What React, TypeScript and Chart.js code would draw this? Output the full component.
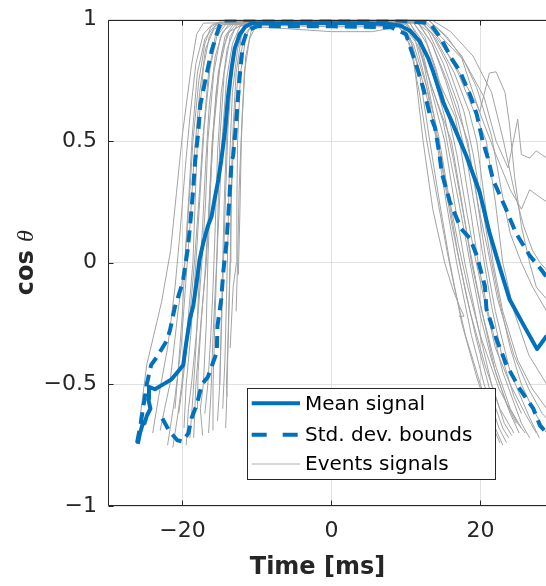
import React, { useEffect, useRef } from "react";
import { Chart, registerables } from "chart.js";

Chart.register(...registerables);

type P = [number, number];

const xTicks = [-20, 0, 20];
const yTicks = [-1, -0.5, 0, 0.5, 1];
const xMin = -30;
const xMax = 28.8;
const yMin = -1;
const yMax = 1;
const legendLabels = ["Mean signal", "Std. dev. bounds", "Events signals"];
const xTitle = "Time [ms]";
const yTitleMain = "cos ";
const yTitleSymbol = "θ";

const meanSignal: P[] = [
  [-26.0, -0.745], [-25.7, -0.7], [-25.5, -0.68], [-25.3, -0.655], [-25.1, -0.66], [-24.8, -0.63],
  [-24.3, -0.6], [-24.6, -0.56], [-24.5, -0.51], [-23.7, -0.52], [-22.6, -0.5], [-21.5, -0.48],
  [-20.4, -0.44], [-19.9, -0.42], [-19.5, -0.33], [-19.0, -0.23], [-18.55, -0.177], [-18.1, -0.08],
  [-17.7, 0.014], [-17.2, 0.083], [-16.6, 0.15], [-16.1, 0.19], [-15.7, 0.26], [-15.2, 0.34],
  [-14.8, 0.42], [-14.3, 0.54], [-13.9, 0.68], [-13.4, 0.8], [-13.0, 0.88], [-12.3, 0.94],
  [-11.6, 0.97], [-10.7, 0.985], [-8, 0.985], [-4, 0.985], [0, 0.985], [4, 0.985], [8, 0.98],
  [9.2, 0.975], [10.5, 0.955], [11.85, 0.91], [13.0, 0.84], [13.6, 0.79], [15.0, 0.66],
  [16.3, 0.57], [18.1, 0.44], [19.9, 0.29], [21.2, 0.125], [22.5, -0.01], [23.9, -0.15],
  [25.5, -0.24], [27.6, -0.355], [28.9, -0.3],
];

const upperBound: P[] = [
  [-26.1, -0.74], [-25.6, -0.66], [-25.2, -0.58], [-24.8, -0.5], [-24.2, -0.42], [-23.5, -0.39],
  [-22.1, -0.32], [-21.7, -0.28], [-21.0, -0.18], [-19.96, -0.08], [-19.3, 0.055], [-18.9, 0.18],
  [-18.6, 0.29], [-18.3, 0.42], [-17.9, 0.53], [-17.6, 0.65], [-16.8, 0.77], [-16.1, 0.87],
  [-15.4, 0.94], [-14.8, 0.995], [-12, 0.998], [0, 0.998], [8, 0.998], [13.2, 0.985],
  [14.75, 0.92], [16.1, 0.84], [17.2, 0.79], [18.6, 0.69], [19.5, 0.61], [20.3, 0.5],
  [21.0, 0.43], [21.7, 0.34], [23.3, 0.23], [24.8, 0.12], [26.6, 0.03], [28.2, -0.03],
  [28.9, -0.06],
];

const lowerBound: P[] = [
  [-22.7, -0.64], [-21.8, -0.69], [-20.7, -0.73], [-20.0, -0.735], [-19.2, -0.7], [-18.8, -0.64],
  [-18.1, -0.585], [-17.4, -0.5], [-16.6, -0.47], [-15.9, -0.41], [-15.4, -0.37], [-15.3, -0.26],
  [-14.8, -0.15], [-14.5, -0.03], [-14.1, 0.08], [-13.8, 0.22], [-13.4, 0.42], [-13.2, 0.44],
  [-12.8, 0.57], [-12.6, 0.66], [-12.3, 0.77], [-11.9, 0.9], [-11.3, 0.955], [-10.0, 0.972],
  [0, 0.972], [8, 0.968], [10.0, 0.94], [11.4, 0.81], [12.3, 0.72], [13.2, 0.61], [13.9, 0.555],
  [14.5, 0.445], [14.8, 0.37], [15.9, 0.25], [17.4, 0.14], [18.6, 0.1], [19.5, 0.03],
  [20.6, -0.095], [20.8, -0.19], [22.1, -0.31], [23.5, -0.42], [25.3, -0.52], [27.1, -0.6],
  [28.0, -0.67], [28.9, -0.7],
];

const event01: P[] = [
  [-25.8, -0.66], [-24.8, -0.42], [-22.8, -0.16], [-21.6, 0.05], [-20.8, 0.29], [-20.0, 0.53],
  [-18.8, 0.81], [-18.1, 0.94], [-17.2, 0.985], [-10, 0.99], [0, 0.99], [8, 0.985], [9.5, 0.97],
  [11.0, 0.85], [12.3, 0.5], [13.6, 0.22], [15.2, 0.0], [16.3, -0.11], [17.2, -0.18], [17.8, -0.22],
  [17.1, -0.22],
];
const event02: P[] = [
  [-23.0, -0.69], [-22.4, -0.6], [-21.7, -0.5], [-20.6, -0.2], [-19.7, 0.0], [-19.0, 0.3],
  [-18.6, 0.5], [-17.8, 0.75], [-17.0, 0.9], [-16.2, 0.97], [-15.0, 0.99], [0, 0.99], [9, 0.99],
  [10.5, 0.93], [11.8, 0.78], [13.2, 0.5], [14.5, 0.25], [15.9, 0.0], [17.5, -0.25], [19.5, -0.47],
  [21.5, -0.66], [22.6, -0.74],
];
const event03: P[] = [
  [-21.3, -0.76], [-20.6, -0.62], [-20.1, -0.5], [-19.3, -0.25], [-18.6, 0.0], [-18.0, 0.5],
  [-17.2, 0.8], [-16.4, 0.93], [-15.5, 0.98], [-14, 0.99], [0, 0.985], [10, 0.98], [11.2, 0.92],
  [12.6, 0.75], [14.1, 0.5], [15.5, 0.23], [16.8, 0.0], [18.8, -0.3], [20.5, -0.5], [22.5, -0.68],
  [23.5, -0.74],
];
const event04: P[] = [
  [-19.5, -0.75], [-19.2, -0.6], [-18.8, -0.5], [-18.0, -0.25], [-17.4, 0.0], [-16.9, 0.25],
  [-16.6, 0.5], [-15.8, 0.78], [-14.9, 0.93], [-13.8, 0.98], [-12, 0.99], [0, 0.99], [10.5, 0.99],
  [12, 0.9], [13.5, 0.7], [15.2, 0.5], [16.5, 0.25], [17.9, 0.0], [19.8, -0.28], [21.5, -0.5],
  [23.2, -0.66], [24.2, -0.71],
];
const event05: P[] = [
  [-20.5, -0.62], [-20.0, -0.5], [-19.1, -0.25], [-18.4, 0.0], [-17.7, 0.3], [-17.3, 0.5],
  [-16.5, 0.78], [-15.6, 0.93], [-14.5, 0.98], [-13, 0.99], [-2, 0.98], [9.5, 0.98], [11.5, 0.9],
  [13.5, 0.72], [16.1, 0.5], [17.5, 0.25], [18.8, 0.0], [20.2, -0.2], [22.0, -0.45], [24.0, -0.62],
  [25.2, -0.7],
];
const event06: P[] = [
  [-17.3, -0.71], [-17.6, -0.6], [-17.2, -0.5], [-16.8, -0.25], [-16.6, 0.0], [-16.3, 0.25],
  [-16.0, 0.5], [-15.2, 0.78], [-14.3, 0.93], [-13.2, 0.98], [-11.5, 0.99], [0, 0.995], [11, 0.99],
  [12.8, 0.9], [14.5, 0.74], [16.6, 0.6], [17.2, 0.5], [18.5, 0.25], [19.7, 0.0], [21.0, -0.2],
  [23.0, -0.45], [25.5, -0.66], [26.6, -0.72],
];
const event07: P[] = [
  [-15.9, -0.69], [-15.9, -0.5], [-15.6, -0.2], [-15.4, 0.0], [-15.2, 0.25], [-15.0, 0.5],
  [-14.4, 0.78], [-13.6, 0.93], [-12.6, 0.98], [-11, 0.99], [0, 0.99], [11.5, 0.995], [13.5, 0.9],
  [15.5, 0.75], [18.3, 0.5], [19.6, 0.25], [20.8, 0.0], [22.0, -0.2], [24.0, -0.45], [26.5, -0.63],
  [27.9, -0.72],
];
const event08: P[] = [
  [-15.3, -0.65], [-15.0, -0.5], [-14.8, -0.25], [-14.6, 0.0], [-14.4, 0.25], [-14.1, 0.5],
  [-13.5, 0.8], [-12.6, 0.94], [-11.5, 0.98], [-10, 0.99], [0, 0.99], [12, 0.998], [14.0, 0.92],
  [16.5, 0.78], [18.5, 0.62], [19.5, 0.5], [20.6, 0.25], [21.7, 0.0], [23.0, -0.2], [25.0, -0.4],
  [27.0, -0.52], [28.9, -0.6],
];
const event09: P[] = [
  [-14.0, -0.55], [-14.1, -0.5], [-13.8, -0.25], [-13.6, 0.0], [-13.5, 0.25], [-13.3, 0.5],
  [-12.8, 0.78], [-12.1, 0.93], [-11.2, 0.98], [-9, 0.99], [0, 0.99], [12.5, 0.998], [15.0, 0.92],
  [17.5, 0.84], [19.0, 0.7], [19.9, 0.62], [21.2, 0.78], [22.1, 0.785], [23.3, 0.7], [23.9, 0.57],
  [24.6, 0.35], [25.5, 0.15], [26.6, 0.0], [27.5, -0.1], [28.9, -0.15],
];
const event10: P[] = [
  [-13.6, -0.35], [-13.2, -0.1], [-12.75, 0.0], [-12.7, 0.25], [-12.6, 0.5], [-12.2, 0.78],
  [-11.5, 0.93], [-10.7, 0.98], [-9, 0.99], [0, 0.998], [13, 0.998], [15.5, 0.93], [18.0, 0.82],
  [20.5, 0.68], [22.1, 0.5], [23.7, 0.39], [25.0, 0.59], [25.5, 0.445], [26.6, 0.43], [27.5, 0.46],
  [28.9, 0.43],
];
const event11: P[] = [
  [-12.8, -0.2], [-12.6, 0.0], [-12.4, 0.3], [-12.0, 0.6], [-11.5, 0.85], [-10.8, 0.95],
  [-10, 0.98], [0, 0.98], [12.5, 0.99], [14.5, 0.92], [17, 0.78], [20.8, 0.5], [22.0, 0.25],
  [23.0, 0.0], [24.5, -0.2], [26.5, -0.38], [28.9, -0.5],
];
const event12: P[] = [
  [-18.5, -0.72], [-18.2, -0.5], [-17.4, -0.2], [-16.8, 0.0], [-16.3, 0.3], [-15.8, 0.55],
  [-15.0, 0.8], [-14.0, 0.94], [-12.8, 0.98], [-11, 0.985], [0, 0.985], [9.0, 0.975], [10.5, 0.9],
  [11.8, 0.7], [12.8, 0.5], [14.0, 0.3], [15.5, 0.05], [16.5, -0.1], [18.0, -0.3], [20.0, -0.5],
  [22.0, -0.68], [23.0, -0.75],
];
const event13: P[] = [
  [-24.0, -0.7], [-23.2, -0.55], [-22.0, -0.35], [-21.0, -0.1], [-20.4, 0.1], [-19.6, 0.4],
  [-19.0, 0.6], [-18.2, 0.82], [-17.2, 0.94], [-16.0, 0.98], [-14, 0.99], [0, 0.98], [10, 0.985],
  [11.5, 0.93], [12.5, 0.8], [13.8, 0.6], [14.8, 0.4], [16.2, 0.15], [17.2, 0.0], [18.6, -0.2],
  [20.6, -0.42], [22.6, -0.6], [24.5, -0.7],
];
const event14: P[] = [
  [-22.0, -0.75], [-21.0, -0.55], [-20.2, -0.35], [-19.6, -0.1], [-19.0, 0.15], [-18.4, 0.45],
  [-17.7, 0.7], [-16.9, 0.88], [-15.8, 0.96], [-14.5, 0.98], [0, 0.97], [9.5, 0.97], [11, 0.9],
  [12.8, 0.72], [14.4, 0.52], [15.6, 0.3], [17.0, 0.08], [18.3, -0.1], [20.0, -0.3], [22.5, -0.52],
  [25.0, -0.66], [26.0, -0.7],
];
const event15: P[] = [
  [-17.0, -0.62], [-16.6, -0.5], [-16.2, -0.3], [-15.9, -0.1], [-15.6, 0.15], [-15.3, 0.45],
  [-14.8, 0.7], [-14.0, 0.88], [-13.0, 0.96], [-11.8, 0.985], [0, 0.985], [11, 0.985], [12.5, 0.93],
  [14.0, 0.8], [15.6, 0.62], [16.8, 0.45], [18.2, 0.2], [19.3, 0.02], [20.5, -0.15], [22.0, -0.35],
  [24.0, -0.5], [26.0, -0.62], [27.5, -0.7],
];
const event16: P[] = [
  [-14.6, -0.6], [-14.3, -0.4], [-14.1, -0.15], [-13.9, 0.1], [-13.7, 0.4], [-13.3, 0.7],
  [-12.6, 0.88], [-11.8, 0.96], [-10.5, 0.99], [0, 0.998], [11, 0.998], [13.0, 0.95], [15.0, 0.82],
  [17.0, 0.65], [18.5, 0.45], [19.8, 0.22], [21.0, 0.05], [22.3, -0.15], [24.5, -0.38], [26.5, -0.52],
  [28.3, -0.62], [28.9, -0.64],
];
const event17: P[] = [
  [-19.8, -0.68], [-19.5, -0.5], [-18.9, -0.3], [-18.2, 0.0], [-17.6, 0.3], [-17.1, 0.55],
  [-16.3, 0.8], [-15.4, 0.93], [-14.2, 0.98], [-12.5, 0.99], [0, 0.99], [10, 0.99], [11.5, 0.92],
  [13.2, 0.75], [15.0, 0.58], [16.0, 0.42], [17.4, 0.2], [18.6, 0.0], [20.0, -0.22], [21.5, -0.4],
  [23.5, -0.58], [24.8, -0.66],
];
const event18: P[] = [
  [-16.5, -0.7], [-16.2, -0.55], [-15.9, -0.3], [-15.5, -0.05], [-15.1, 0.2], [-14.7, 0.5],
  [-14.1, 0.75], [-13.3, 0.9], [-12.3, 0.97], [-11, 0.99], [0, 0.99], [12, 0.99], [13.5, 0.94],
  [15.5, 0.82], [17.8, 0.62], [19.0, 0.45], [20.3, 0.22], [21.2, 0.05], [22.5, -0.15], [24.0, -0.35],
  [25.5, -0.5], [27.0, -0.6], [28.9, -0.7],
];
const event19: P[] = [
  [-18.0, -0.6], [-17.9, -0.45], [-17.5, -0.25], [-17.0, -0.05], [-16.5, 0.2], [-16.1, 0.45],
  [-15.5, 0.7], [-14.7, 0.87], [-13.7, 0.95], [-12.2, 0.975], [0, 0.95], [5.5, 0.95], [9, 0.97],
  [10.8, 0.9], [12.2, 0.75], [13.5, 0.6], [14.6, 0.45], [15.8, 0.25], [16.9, 0.05], [18.0, -0.12],
  [19.5, -0.32], [21.5, -0.55], [23.0, -0.68], [23.8, -0.72],
];
const event20: P[] = [
  [-15.0, -0.5], [-14.8, -0.3], [-14.6, -0.1], [-14.3, 0.2], [-13.9, 0.55], [-13.3, 0.8],
  [-12.5, 0.93], [-11.5, 0.98], [-10, 0.99], [0, 0.99], [13, 0.998], [15.0, 0.94], [17.5, 0.85],
  [19.5, 0.72], [21.5, 0.52], [22.8, 0.3], [24.0, 0.12], [25.5, 0.0], [27.0, -0.1], [28.9, -0.2],
];
const event21: P[] = [
  [-12.5, -0.05], [-12.3, 0.2], [-12.1, 0.5], [-11.7, 0.78], [-11.0, 0.92], [-10.2, 0.97],
  [-9, 0.99], [0, 0.99], [13.5, 0.998], [16.0, 0.95], [19.0, 0.85], [21.5, 0.7], [23.1, 0.5],
  [24.5, 0.3], [25.8, 0.15], [27.0, 0.05], [28.0, 0.0], [28.9, -0.03],
];
const event22: P[] = [
  [-21.0, -0.6], [-20.6, -0.45], [-20.0, -0.2], [-19.6, 0.05], [-19.1, 0.3], [-18.7, 0.52],
  [-18.0, 0.78], [-17.0, 0.92], [-15.8, 0.97], [-14.5, 0.985], [0, 0.985], [12, 0.99], [14.0, 0.93],
  [16.5, 0.82], [19.5, 0.65], [22.0, 0.45], [24.0, 0.3], [25.5, 0.22], [26.6, 0.3], [27.5, 0.28],
  [28.9, 0.25],
];
const event23: P[] = [
  [-14.2, -0.68], [-14.0, -0.5], [-13.8, -0.2], [-13.6, 0.0], [-13.4, 0.3], [-13.0, 0.6],
  [-12.4, 0.83], [-11.6, 0.94], [-10.6, 0.98], [-9, 0.99], [0, 0.985], [11.5, 0.99], [13.5, 0.9],
  [15.3, 0.75], [17.0, 0.58], [18.2, 0.42], [19.5, 0.18], [20.4, 0.02], [21.5, -0.18], [23.0, -0.4],
  [24.5, -0.55], [25.5, -0.62],
];
const event24: P[] = [
  [-19.0, -0.72], [-18.6, -0.55], [-18.2, -0.35], [-17.8, -0.1], [-17.3, 0.15], [-16.9, 0.4],
  [-16.4, 0.65], [-15.6, 0.85], [-14.6, 0.95], [-13.2, 0.985], [0, 0.99], [10.5, 0.985], [12.0, 0.92],
  [13.6, 0.78], [15.2, 0.6], [16.4, 0.42], [17.6, 0.22], [18.8, 0.02], [20.2, -0.2], [22.0, -0.42],
  [24.0, -0.6], [25.5, -0.68],
];

const eventSignals: P[][] = [
  event01, event02, event03, event04, event05, event06, event07, event08, event09, event10,
  event11, event12, event13, event14, event15, event16, event17, event18, event19, event20,
  event21, event22, event23, event24,
];

const BLUE = "#0072BD";
const GREY = "#a3a3a3";
const AXIS = "#262626";
const GRID = "#e0e0e0";
const FONT = "'DejaVu Sans', sans-serif";

const fmt = (v: number) => String(v).replace("-", "\u2212");
const toXY = (pts: P[]) => pts.map(([x, y]) => ({ x, y }));

const decorPlugin = {
  id: "decor",
  afterDatasetsDraw(chart: any) {
    const { ctx, chartArea: ca, scales } = chart;
    const xs = scales.x;
    const ys = scales.y;
    ctx.save();
    ctx.strokeStyle = AXIS;
    ctx.lineWidth = 1;
    ctx.setLineDash([]);
    const L = Math.round(ca.left) + 0.5;
    const T = Math.round(ca.top) + 0.5;
    const B = Math.round(ca.bottom) - 0.5;
    ctx.beginPath();
    ctx.moveTo(L, T);
    ctx.lineTo(ca.right, T);
    ctx.moveTo(L, T);
    ctx.lineTo(L, B);
    ctx.lineTo(ca.right, B);
    ctx.stroke();
    const tl = 5;
    ctx.beginPath();
    for (const v of xTicks) {
      const px = Math.round(xs.getPixelForValue(v)) + 0.5;
      ctx.moveTo(px, B);
      ctx.lineTo(px, B - tl);
      ctx.moveTo(px, T);
      ctx.lineTo(px, T + tl);
    }
    for (const v of yTicks) {
      const py = Math.round(ys.getPixelForValue(v)) + 0.5;
      ctx.moveTo(L, py);
      ctx.lineTo(L + tl, py);
    }
    ctx.stroke();

    // legend
    const bx = ca.left + 139.3;
    const by = ca.top + 368.8;
    const bw = 247.7;
    const bh = 91;
    ctx.fillStyle = "#ffffff";
    ctx.fillRect(bx, by, bw, bh);
    ctx.strokeStyle = AXIS;
    ctx.lineWidth = 1;
    ctx.strokeRect(Math.round(bx) + 0.5, Math.round(by) + 0.5, Math.round(bw), Math.round(bh));
    const rows = [15, 46.5, 75.7];
    const styles = [
      { color: BLUE, width: 4, dash: [] as number[] },
      { color: BLUE, width: 4, dash: [15, 16] },
      { color: "#b0b0b0", width: 1, dash: [] as number[] },
    ];
    ctx.font = `20px ${FONT}`;
    ctx.textBaseline = "middle";
    ctx.textAlign = "left";
    legendLabels.forEach((lab, i) => {
      const y = by + rows[i];
      const s = styles[i];
      ctx.beginPath();
      ctx.strokeStyle = s.color;
      ctx.lineWidth = s.width;
      ctx.setLineDash(s.dash);
      ctx.moveTo(bx + 4.4, y);
      ctx.lineTo(bx + 52.7, y);
      ctx.stroke();
      ctx.setLineDash([]);
      ctx.fillStyle = "#000000";
      ctx.fillText(lab, bx + 57.7, y + 1);
    });

    // x title
    ctx.fillStyle = AXIS;
    ctx.font = `bold 24px ${FONT}`;
    ctx.textAlign = "center";
    ctx.textBaseline = "alphabetic";
    ctx.fillText(xTitle, ca.left + 209.5, ca.bottom + 68);

    // y title: bold "cos " + italic theta
    ctx.save();
    ctx.translate(ca.left - 75, (ca.top + ca.bottom) / 2);
    ctx.rotate(-Math.PI / 2);
    ctx.font = `bold 24px ${FONT}`;
    const w1 = ctx.measureText(yTitleMain).width;
    ctx.font = `italic 24px 'Liberation Serif', serif`;
    const w2 = ctx.measureText(yTitleSymbol).width;
    const start = -(w1 + w2) / 2;
    ctx.textAlign = "left";
    ctx.font = `bold 24px ${FONT}`;
    ctx.fillText(yTitleMain, start, 0);
    ctx.font = `italic 24px 'Liberation Serif', serif`;
    ctx.fillText(yTitleSymbol, start + w1, 0);
    ctx.restore();

    ctx.restore();
  },
};

export default function App() {
  const ref = useRef<HTMLCanvasElement | null>(null);

  useEffect(() => {
    if (!ref.current) return;
    const datasets: any[] = [
      {
        label: legendLabels[0],
        data: toXY(meanSignal),
        borderColor: BLUE,
        borderWidth: 4,
        showLine: true,
        pointRadius: 0,
        tension: 0,
        borderJoinStyle: "round",
      },
      {
        label: legendLabels[1],
        data: toXY(upperBound),
        borderColor: BLUE,
        borderWidth: 4,
        borderDash: [12, 7],
        showLine: true,
        pointRadius: 0,
        tension: 0,
      },
      {
        label: legendLabels[1] + " (lower)",
        data: toXY(lowerBound),
        borderColor: BLUE,
        borderWidth: 4,
        borderDash: [12, 7],
        showLine: true,
        pointRadius: 0,
        tension: 0,
      },
      ...eventSignals.map((ev, i) => ({
        label: `${legendLabels[2]} ${i + 1}`,
        data: toXY(ev),
        borderColor: GREY,
        borderWidth: 1,
        showLine: true,
        pointRadius: 0,
        tension: 0,
      })),
    ];

    const chart = new Chart(ref.current, {
      type: "scatter",
      data: { datasets },
      options: {
        animation: false,
        responsive: false,
        maintainAspectRatio: false,
        layout: { padding: { top: 19.5, right: 0, left: 0, bottom: 0 } },
        plugins: {
          legend: { display: false },
          tooltip: { enabled: false },
          title: { display: false },
        },
        scales: {
          x: {
            type: "linear",
            min: xMin,
            max: xMax,
            afterBuildTicks: (s: any) => {
              s.ticks = xTicks.map((v) => ({ value: v }));
            },
            afterFit: (s: any) => {
              s.height = 80;
              s.paddingLeft = 0;
              s.paddingRight = 0;
            },
            grid: { color: GRID, lineWidth: 1, drawTicks: false },
            border: { display: false },
            ticks: {
              color: AXIS,
              font: { family: FONT, size: 22 },
              padding: 12,
              maxRotation: 0,
              callback: (v: any) => fmt(Number(v)),
            },
          },
          y: {
            type: "linear",
            min: yMin,
            max: yMax,
            afterBuildTicks: (s: any) => {
              s.ticks = yTicks.map((v) => ({ value: v }));
            },
            afterFit: (s: any) => {
              s.width = 108;
              s.paddingTop = 0;
              s.paddingBottom = 0;
            },
            grid: { color: GRID, lineWidth: 1, drawTicks: false },
            border: { display: false },
            ticks: {
              color: AXIS,
              font: { family: FONT, size: 22 },
              padding: 11,
              callback: (v: any) => fmt(Number(v)),
            },
          },
        },
      },
      plugins: [decorPlugin],
    });
    return () => chart.destroy();
  }, []);

  return (
    <div style={{ position: "fixed", left: 0, top: 0, width: 546, height: 586, background: "#fff" }}>
      <canvas ref={ref} width={546} height={586} style={{ display: "block", width: 546, height: 586 }} />
    </div>
  );
}
